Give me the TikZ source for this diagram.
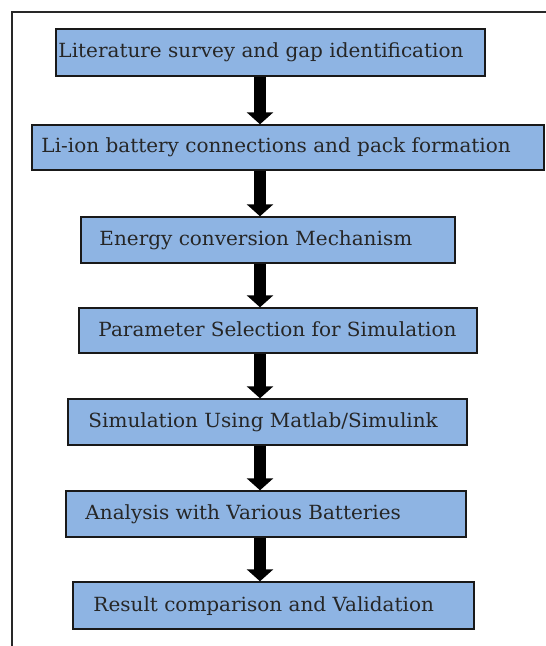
\documentclass[tikz,border=0pt]{standalone}
\usepackage{fontspec}
\setmainfont{DejaVu Serif}
\newcommand{\widetext}[1]{\scalebox{1.025}[1]{#1}}
\usetikzlibrary{arrows.meta,calc}
\definecolor{boxblue}{RGB}{142,180,227}
\definecolor{framegray}{RGB}{40,40,40}
\tikzset{
  stepbox/.style={draw=black!90, line width=1.4bp, fill=boxblue, inner sep=0pt, rectangle},
  lbl/.style={anchor=base west, inner sep=0pt, font=\fontsize{19.5bp}{23bp}\selectfont, text=black!85},
  bigarrow/.style={draw=black, line width=12bp, -{Triangle[width=26bp,length=12bp]}},
}
\begin{document}
\begin{tikzpicture}[x=1bp,y=-1bp]
\useasboundingbox (0,0) rectangle (546,646);
\draw[framegray, line width=1.5bp] (12,646) -- (12,12) -- (546,12);
% boxes
\node[stepbox, minimum width=429bp, minimum height=47bp] (b1) at (270.5,52.5) {};
\node[stepbox, minimum width=512bp, minimum height=45bp] (b2) at (288,147.5) {};
\node[stepbox, minimum width=374bp, minimum height=46bp] (b3) at (268,240) {};
\node[stepbox, minimum width=398bp, minimum height=45bp] (b4) at (278,330.5) {};
\node[stepbox, minimum width=399bp, minimum height=46bp] (b5) at (267.5,422) {};
\node[stepbox, minimum width=400bp, minimum height=46bp] (b6) at (266,514) {};
\node[stepbox, minimum width=401bp, minimum height=47bp] (b7) at (273.5,605.5) {};
% labels
\node[lbl] (t1) at ($(b1.west)+(3,5.5)$) {\widetext{Literature survey and gap identification}};
\node[lbl] (t2) at ($(b2.west)+(10,5.5)$) {\widetext{Li-ion battery connections and pack formation}};
\node[lbl] (t3) at ($(b3.west)+(19,5.5)$) {\widetext{Energy conversion Mechanism}};
\node[lbl] (t4) at ($(b4.west)+(20,5.5)$) {\widetext{Parameter Selection for Simulation}};
\node[lbl] (t5) at ($(b5.west)+(21,5.5)$) {\widetext{Simulation Using Matlab/Simulink}};
\node[lbl] (t6) at ($(b6.west)+(20,5.5)$) {\widetext{Analysis with Various Batteries}};
\node[lbl] (t7) at ($(b7.west)+(21,5.5)$) {\widetext{Result comparison and Validation}};
% arrows
\coordinate (ax) at (260,0);
\draw[bigarrow] (b1.south -| ax) -- (b2.north -| ax);
\draw[bigarrow] (b2.south -| ax) -- (b3.north -| ax);
\draw[bigarrow] (b3.south -| ax) -- (b4.north -| ax);
\draw[bigarrow] (b4.south -| ax) -- (b5.north -| ax);
\draw[bigarrow] (b5.south -| ax) -- (b6.north -| ax);
\draw[bigarrow] (b6.south -| ax) -- (b7.north -| ax);
\end{tikzpicture}
\end{document}
